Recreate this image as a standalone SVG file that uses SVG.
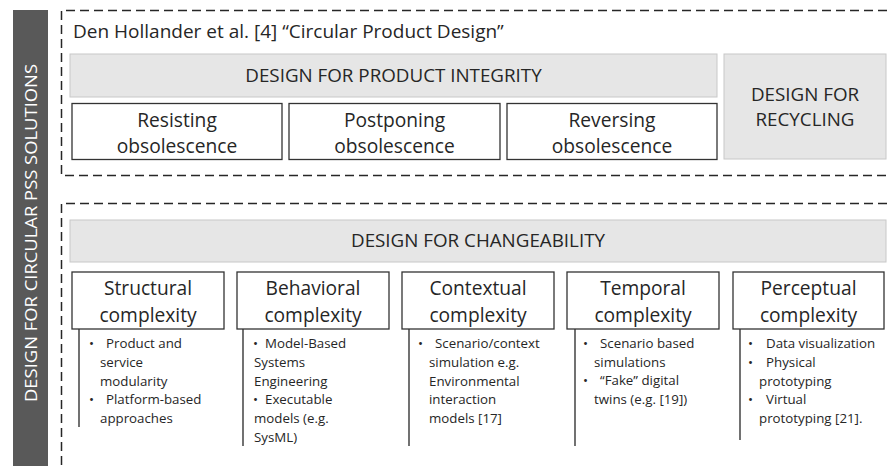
<svg xmlns="http://www.w3.org/2000/svg" width="887" height="466" viewBox="0 0 887 466">
<style>
.dash{fill:none;stroke:#262626;stroke-width:1.5;stroke-dasharray:9 5}
.band{fill:#e6e6e6;stroke:#c8c8c8;stroke-width:1}
.box{fill:#fff;stroke:#333;stroke-width:1.3}
.t{font-family:"Open Sans","Liberation Sans",Arial,sans-serif;fill:#262626}
.h{font-size:18.8px;text-anchor:middle}
.b{font-size:19.2px;text-anchor:middle}
.s{font-size:13.3px}
.stem{stroke:#262626;stroke-width:1.3}
</style>
<rect x="13" y="10" width="35" height="456" fill="#595959"/>
<text class="t" transform="translate(37,233) rotate(-90)" text-anchor="middle" font-size="16.5" style="fill:#fff" textLength="338" lengthAdjust="spacingAndGlyphs">DESIGN FOR CIRCULAR PSS SOLUTIONS</text>

<g id="frame-top">
<path class="dash" d="M887 10.5 H61.5 V175.5 H887"/>
<text class="t" x="73" y="38" font-size="19">Den Hollander et al. [4] “Circular Product Design”</text>
</g>
<g id="frame-bottom">
<path class="dash" d="M887 203.5 H61.5 V466"/>
</g>

<g id="product-integrity">
<rect class="band" x="70" y="54" width="647" height="43"/>
<text class="t h" x="393.5" y="82">DESIGN FOR PRODUCT INTEGRITY</text>
</g>
<g id="resisting">
<rect class="box" x="72" y="103.5" width="210" height="56"/>
<text class="t b" x="177" y="127">Resisting</text>
<text class="t b" x="177" y="153">obsolescence</text>
</g>
<g id="postponing">
<rect class="box" x="289" y="103.5" width="211" height="56"/>
<text class="t b" x="394.5" y="127">Postponing</text>
<text class="t b" x="394.5" y="153">obsolescence</text>
</g>
<g id="reversing">
<rect class="box" x="507" y="103.5" width="210" height="56"/>
<text class="t b" x="612" y="127">Reversing</text>
<text class="t b" x="612" y="153">obsolescence</text>
</g>
<g id="recycling">
<rect class="band" x="724" y="54" width="162" height="105"/>
<text class="t h" x="805" y="101">DESIGN FOR</text>
<text class="t h" x="805" y="126">RECYCLING</text>
</g>

<g id="changeability">
<rect class="band" x="70" y="220" width="816" height="42"/>
<text class="t h" x="478" y="247">DESIGN FOR CHANGEABILITY</text>
</g>

<g id="connectors">
<line class="stem" x1="79" y1="329" x2="79" y2="427"/>
<line class="stem" x1="243" y1="329" x2="243" y2="446"/>
<line class="stem" x1="409" y1="329" x2="409" y2="446"/>
<line class="stem" x1="575" y1="329" x2="575" y2="446"/>
<line class="stem" x1="740" y1="329" x2="740" y2="440"/>
</g>

<g id="structural">
<rect class="box" x="72" y="272" width="152" height="57"/>
<text class="t b" x="148" y="295">Structural</text>
<text class="t b" x="148" y="322">complexity</text>
<text class="t s" x="89" y="348">•</text><text class="t s" x="106" y="348">Product and</text>
<text class="t s" x="100" y="367">service</text>
<text class="t s" x="100" y="386">modularity</text>
<text class="t s" x="89" y="404">•</text><text class="t s" x="106" y="404">Platform-based</text>
<text class="t s" x="100" y="423">approaches</text>
</g>
<g id="behavioral">
<rect class="box" x="237" y="272" width="152" height="57"/>
<text class="t b" x="313" y="295">Behavioral</text>
<text class="t b" x="313" y="322">complexity</text>
<text class="t s" x="253" y="348">•</text><text class="t s" x="265" y="348">Model-Based</text>
<text class="t s" x="254" y="367">Systems</text>
<text class="t s" x="254" y="386">Engineering</text>
<text class="t s" x="253" y="404">•</text><text class="t s" x="265" y="404">Executable</text>
<text class="t s" x="254" y="423">models (e.g.</text>
<text class="t s" x="254" y="442">SysML)</text>
</g>
<g id="contextual">
<rect class="box" x="402" y="272" width="152" height="57"/>
<text class="t b" x="478" y="295">Contextual</text>
<text class="t b" x="478" y="322">complexity</text>
<text class="t s" x="418" y="348">•</text><text class="t s" x="435" y="348">Scenario/context</text>
<text class="t s" x="429" y="367">simulation e.g.</text>
<text class="t s" x="429" y="386">Environmental</text>
<text class="t s" x="429" y="404">interaction</text>
<text class="t s" x="429" y="423">models [17]</text>
</g>
<g id="temporal">
<rect class="box" x="567" y="272" width="152" height="57"/>
<text class="t b" x="643" y="295">Temporal</text>
<text class="t b" x="643" y="322">complexity</text>
<text class="t s" x="583" y="348">•</text><text class="t s" x="600" y="348">Scenario based</text>
<text class="t s" x="594" y="367">simulations</text>
<text class="t s" x="583" y="385">•</text><text class="t s" x="600" y="385">“Fake” digital</text>
<text class="t s" x="594" y="404">twins (e.g. [19])</text>
</g>
<g id="perceptual">
<rect class="box" x="733" y="272" width="151" height="57"/>
<text class="t b" x="808.5" y="295">Perceptual</text>
<text class="t b" x="808.5" y="322">complexity</text>
<text class="t s" x="748" y="348">•</text><text class="t s" x="766" y="348">Data visualization</text>
<text class="t s" x="748" y="367">•</text><text class="t s" x="766" y="367">Physical</text>
<text class="t s" x="759" y="386">prototyping</text>
<text class="t s" x="748" y="404">•</text><text class="t s" x="766" y="404">Virtual</text>
<text class="t s" x="759" y="423">prototyping [21].</text>
</g>
</svg>
